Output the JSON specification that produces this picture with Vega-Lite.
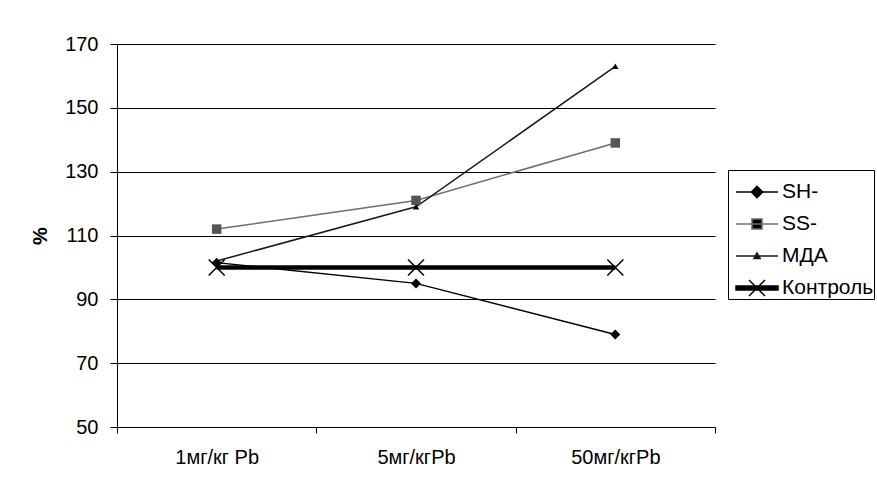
{
  "$schema": "https://vega.github.io/schema/vega-lite/v6.json",
  "width": 598,
  "height": 383,
  "autosize": "none",
  "padding": {"left": 117, "top": 44, "right": 162, "bottom": 55},
  "background": "white",
  "config": {
    "font": "Liberation Sans",
    "view": {"stroke": null},
    "legend": {"symbolOpacity": 1}
  },
  "data": {
    "values": [
      {"series": "SH-", "dose": "1мг/кг Pb", "value": 101.5},
      {"series": "SH-", "dose": "5мг/кгPb", "value": 95},
      {"series": "SH-", "dose": "50мг/кгPb", "value": 79},
      {"series": "SS-", "dose": "1мг/кг Pb", "value": 112},
      {"series": "SS-", "dose": "5мг/кгPb", "value": 121},
      {"series": "SS-", "dose": "50мг/кгPb", "value": 139},
      {"series": "МДА", "dose": "1мг/кг Pb", "value": 102},
      {"series": "МДА", "dose": "5мг/кгPb", "value": 119},
      {"series": "МДА", "dose": "50мг/кгPb", "value": 163},
      {"series": "Контроль", "dose": "1мг/кг Pb", "value": 100},
      {"series": "Контроль", "dose": "5мг/кгPb", "value": 100},
      {"series": "Контроль", "dose": "50мг/кгPb", "value": 100}
    ]
  },
  "encoding": {
    "x": {
      "field": "dose",
      "type": "nominal",
      "sort": ["1мг/кг Pb", "5мг/кгPb", "50мг/кгPb"],
      "scale": {"paddingInner": 0, "paddingOuter": 0},
      "axis": {
        "title": null,
        "labelAngle": 0,
        "labelFontSize": 20,
        "labelFontWeight": "normal",
        "labelColor": "black",
        "domainColor": "black",
        "tickColor": "black",
        "tickBand": "extent",
        "tickSize": 6,
        "labelPadding": 14
      }
    },
    "y": {
      "field": "value",
      "type": "quantitative",
      "scale": {"domain": [50, 170], "nice": false, "zero": false},
      "axis": {
        "values": [50, 70, 90, 110, 130, 150, 170],
        "title": "%",
        "titleFontSize": 20,
        "titleFontWeight": "bold",
        "titleColor": "black",
        "titlePadding": 14,
        "labelFontSize": 20,
        "labelFontWeight": "normal",
        "labelColor": "black",
        "labelPadding": 12,
        "domainColor": "black",
        "tickColor": "black",
        "tickSize": 7,
        "grid": true,
        "gridColor": "black",
        "gridWidth": 1
      }
    }
  },
  "layer": [
    {
      "mark": {"type": "point", "filled": true, "size": 1, "opacity": 1, "color": "black"},
      "encoding": {
        "shape": {
          "field": "series",
          "type": "nominal",
          "scale": {
            "domain": ["SH-", "SS-", "МДА", "Контроль"],
            "range": [
              "M-1,0L1,0M-0.27,0L0,-0.27L0.27,0L0,0.27Z",
              "M-1,0L1,0M-0.24,-0.24L0.24,-0.24L0.24,0.24L-0.24,0.24Z",
              "M-1,0L1,0M-0.15,0.12L0,-0.15L0.15,0.12Z",
              "M-1,-0.1L1,-0.1L1,0.1L-1,0.1ZM-0.38,-0.38L0.38,0.38M-0.38,0.38L0.38,-0.38"
            ]
          },
          "legend": {
            "title": null,
            "orient": "none",
            "legendX": 611,
            "legendY": 126,
            "strokeColor": "black",
            "fillColor": "white",
            "padding": 0,
            "symbolOffset": 7,
            "symbolSize": 1764,
            "symbolFillColor": "black",
            "labelFontSize": 21,
            "labelFontWeight": "normal",
            "labelColor": "black",
            "labelLimit": 300,
            "labelOffset": 3,
            "rowPadding": -1,
            "encode": {
              "symbols": {
                "update": {
                  "opacity": {"value": 1},
                  "size": {"value": 1764},
                  "stroke": {"signal": "datum.value === 'SS-' ? '#6e6e6e' : 'black'"},
                  "strokeWidth": {"value": 1.5}
                }
              }
            }
          }
        }
      }
    },
    {
      "transform": [{"filter": "datum.series !== 'Контроль'"}],
      "mark": {"type": "line", "strokeWidth": 1.5},
      "encoding": {
        "color": {
          "field": "series",
          "type": "nominal",
          "scale": {"domain": ["SH-", "SS-", "МДА", "Контроль"], "range": ["#000000", "#6e6e6e", "#1a1a1a", "#000000"]},
          "legend": null
        }
      }
    },
    {
      "transform": [{"filter": "datum.series === 'Контроль'"}],
      "mark": {"type": "line", "strokeWidth": 4.5, "color": "black"},
      "encoding": {}
    },
    {
      "transform": [{"filter": "datum.series === 'SH-'"}],
      "mark": {"type": "point", "shape": "diamond", "filled": true, "size": 100, "color": "black", "opacity": 1},
      "encoding": {}
    },
    {
      "transform": [{"filter": "datum.series === 'SS-'"}],
      "mark": {"type": "point", "shape": "square", "filled": true, "size": 90, "color": "#555555", "opacity": 1},
      "encoding": {}
    },
    {
      "transform": [{"filter": "datum.series === 'МДА'"}],
      "mark": {"type": "point", "shape": "triangle-up", "filled": true, "size": 40, "color": "black", "opacity": 1},
      "encoding": {}
    },
    {
      "transform": [{"filter": "datum.series === 'Контроль'"}],
      "mark": {"type": "point", "shape": "M-1,-1L1,1M-1,1L1,-1", "filled": false, "size": 256, "color": "black", "strokeWidth": 1.5, "opacity": 1},
      "encoding": {}
    }
  ]
}
